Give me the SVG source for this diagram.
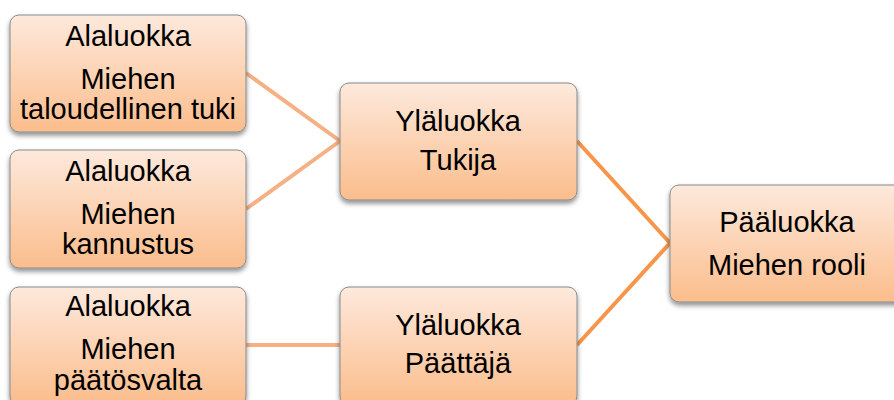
<svg xmlns="http://www.w3.org/2000/svg" width="894" height="400" viewBox="0 0 894 400">
<defs>
<linearGradient id="g" x1="0" y1="0" x2="0" y2="1">
<stop offset="0" stop-color="#fde9dc"/>
<stop offset="1" stop-color="#fbbd8c"/>
</linearGradient>
<filter id="sh" x="-10%" y="-10%" width="120%" height="130%">
<feGaussianBlur in="SourceAlpha" stdDeviation="2.5"/>
<feOffset dx="0" dy="3" result="b"/>
<feComponentTransfer><feFuncA type="linear" slope="0.45"/></feComponentTransfer>
<feMerge><feMergeNode/><feMergeNode in="SourceGraphic"/></feMerge>
</filter>
</defs>
<style>
.box{fill:url(#g);stroke:#8a8a8a;stroke-width:1;filter:url(#sh)}
.t{font-family:"Liberation Sans",Arial,sans-serif;font-size:29px;fill:#000;text-anchor:middle}
.c1{stroke:#f5b083;stroke-width:4;fill:none}
.c2{stroke:#f7954a;stroke-width:4;fill:none}
</style>
<rect width="894" height="400" fill="#fff"/>
<g id="connectors">
<line class="c1" x1="246" y1="73" x2="340" y2="141"/>
<line class="c1" x1="246" y1="209" x2="340" y2="141"/>
<line class="c1" x1="246" y1="345" x2="340" y2="345"/>
<line class="c2" x1="577" y1="141" x2="670" y2="243"/>
<line class="c2" x1="577" y1="345" x2="670" y2="243"/>
</g>
<g id="ala1">
<rect class="box" x="10" y="15" width="236" height="117" rx="9"/>
<text class="t" x="128" y="46">Alaluokka</text>
<text class="t" x="128" y="89">Miehen</text>
<text class="t" x="128" y="119">taloudellinen tuki</text>
</g>
<g id="ala2">
<rect class="box" x="10" y="150" width="236" height="118" rx="9"/>
<text class="t" x="128" y="181">Alaluokka</text>
<text class="t" x="128" y="224">Miehen</text>
<text class="t" x="128" y="254">kannustus</text>
</g>
<g id="ala3">
<rect class="box" x="10" y="287" width="236" height="118" rx="9"/>
<text class="t" x="128" y="316">Alaluokka</text>
<text class="t" x="128" y="359">Miehen</text>
<text class="t" x="128" y="390">päätösvalta</text>
</g>
<g id="yla1">
<rect class="box" x="340" y="83" width="237" height="117" rx="9"/>
<text class="t" x="458" y="131">Yläluokka</text>
<text class="t" x="458" y="170">Tukija</text>
</g>
<g id="yla2">
<rect class="box" x="340" y="287" width="237" height="118" rx="9"/>
<text class="t" x="458" y="335">Yläluokka</text>
<text class="t" x="458" y="373">Päättäjä</text>
</g>
<g id="paa">
<rect class="box" x="670" y="185" width="236" height="117" rx="9"/>
<text class="t" x="787" y="232">Pääluokka</text>
<text class="t" x="787" y="275">Miehen rooli</text>
</g>
</svg>
